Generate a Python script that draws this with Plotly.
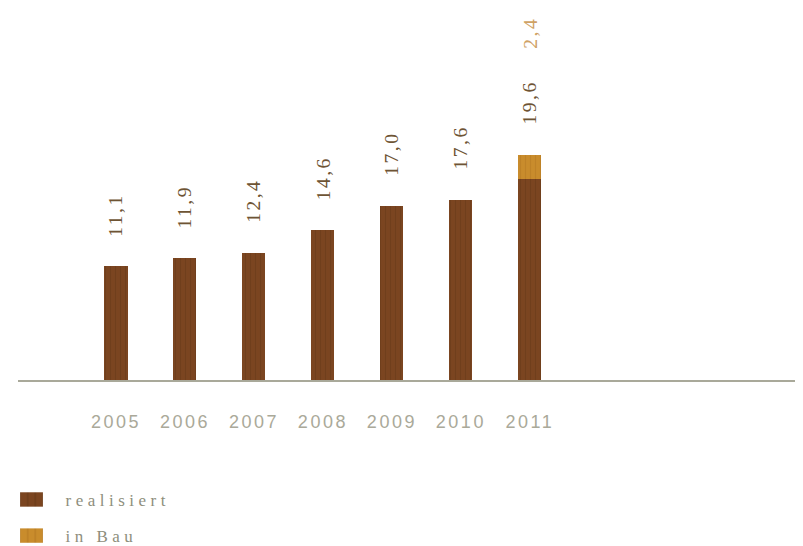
import plotly.graph_objects as go

years = ["2005", "2006", "2007", "2008", "2009", "2010", "2011"]
realisiert = [11.1, 11.9, 12.4, 14.6, 17.0, 17.6, 19.6]
in_bau = [0, 0, 0, 0, 0, 0, 2.4]
labels_real = ["11,1", "11,9", "12,4", "14,6", "17,0", "17,6", "19,6"]
labels_bau = ["", "", "", "", "", "", "2,4"]

x = list(range(len(years)))
dark = "#7b4520"
orange = "#c98c2c"

fig = go.Figure()
fig.add_trace(go.Bar(
    x=x, y=realisiert, name="realisiert", width=0.335,
    marker=dict(color=dark, line=dict(width=0),
                pattern=dict(shape="|", fgcolor="#5a3214", fgopacity=0.35, size=5, solidity=0.25)),
    legendgroup="a",
))
fig.add_trace(go.Bar(
    x=x, y=in_bau, name="in Bau", width=0.335,
    marker=dict(color=orange, line=dict(width=0),
                pattern=dict(shape="|", fgcolor="#a86f1c", fgopacity=0.35, size=5, solidity=0.25)),
    legendgroup="b",
))

for i in x:
    total = realisiert[i] + in_bau[i]
    fig.add_annotation(x=i, y=total, text=labels_real[i], textangle=-90,
                       showarrow=False, yanchor="bottom", yshift=33,
                       font=dict(family="Liberation Serif", size=19.5, color="#6e5434"))
    if labels_bau[i]:
        fig.add_annotation(x=i, y=total, text=labels_bau[i], textangle=-90,
                           showarrow=False, yanchor="bottom", yshift=108,
                           font=dict(family="Liberation Serif", size=19.5, color="#cfa265"))

fig.update_layout(
    barmode="stack",
    width=803, height=546,
    margin=dict(l=10, r=8, t=0, b=170),
    plot_bgcolor="white", paper_bgcolor="white",
    showlegend=True,
    legend=dict(x=-0.00955, y=-0.274, xanchor="left", yanchor="top",
                font=dict(family="Liberation Serif", size=17, color="#8e8e7c"),
                tracegroupgap=11, traceorder="grouped", itemwidth=45),
    xaxis=dict(range=[-1.42, 9.96], tickmode="array", tickvals=x, ticktext=years,
               showgrid=False, zeroline=False, showline=True, linecolor="#a9a99a",
               linewidth=1.5, ticks="", ticklabelstandoff=25,
               tickfont=dict(family="Liberation Sans", size=18, color="#aaa999")),
    yaxis=dict(range=[0, 36.3], visible=False, showgrid=False, zeroline=False),
)

css = """
var s = document.createElement('style');
s.textContent = `
.xtick text { letter-spacing: 2.5px; }
.annotation-text { letter-spacing: 2.5px; }
.legendtext { letter-spacing: 4.5px; }
.legend g.scrollbox { clip-path: none !important; }
.legendpoints path { transform-box: view-box; transform-origin: 0 0; transform: translate(21px, 0px) scale(1.9, 1.2) !important; }
`;
document.head.appendChild(s);
"""

fig.write_html("out.html", post_script=css, config={"displayModeBar": False})
